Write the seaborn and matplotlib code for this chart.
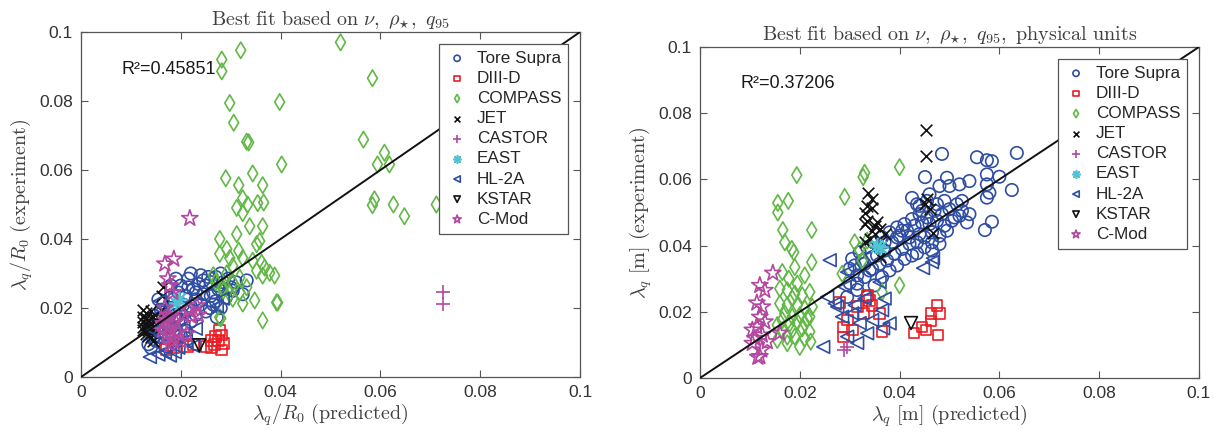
import matplotlib
matplotlib.use('Agg')
import matplotlib.pyplot as plt
import seaborn as sns
from matplotlib.ticker import FuncFormatter, MultipleLocator

sns.set_style('ticks')
plt.rcParams['font.family'] = ['Liberation Sans', 'DejaVu Sans']
plt.rcParams['mathtext.fontset'] = 'cm'

# ---- dataset names / legend order
DEVICES = ['Tore Supra', 'DIII-D', 'COMPASS', 'JET', 'CASTOR', 'EAST', 'HL-2A', 'KSTAR', 'C-Mod']

# ---- left panel: lambda_q/R0 (predicted, experiment)
ts_l_x = [0.0135, 0.014, 0.0145, 0.015, 0.0155, 0.016, 0.0145, 0.0155, 0.016, 0.0165, 0.017, 0.0175, 0.018, 0.0185,
          0.019, 0.0195, 0.02, 0.0205, 0.021, 0.0215, 0.022, 0.0225, 0.023, 0.0235, 0.024, 0.0245, 0.025, 0.0255,
          0.026, 0.0265, 0.027, 0.0275, 0.028, 0.0285, 0.029, 0.0295, 0.03, 0.031, 0.0332, 0.027, 0.028, 0.0265,
          0.025, 0.024, 0.023, 0.022, 0.021, 0.02, 0.019, 0.0185, 0.0175, 0.017, 0.0165, 0.02, 0.021, 0.022, 0.023,
          0.0175, 0.0165, 0.0155, 0.018, 0.019, 0.0215, 0.0245, 0.026, 0.029, 0.0275, 0.0272, 0.0258, 0.0304, 0.0324]
ts_l_y = [0.0095, 0.0085, 0.011, 0.0105, 0.013, 0.0115, 0.015, 0.017, 0.0195, 0.0215, 0.0165, 0.0145, 0.02, 0.0225,
          0.018, 0.0245, 0.0265, 0.021, 0.0235, 0.0285, 0.03, 0.0255, 0.0225, 0.027, 0.0295, 0.024, 0.0265, 0.029,
          0.0275, 0.0245, 0.029, 0.0265, 0.03, 0.0275, 0.0255, 0.0285, 0.026, 0.0275, 0.028, 0.022, 0.02, 0.021,
          0.019, 0.021, 0.018, 0.016, 0.019, 0.0165, 0.014, 0.0125, 0.011, 0.009, 0.0095, 0.012, 0.0135, 0.0205,
          0.0245, 0.0185, 0.0175, 0.0225, 0.0265, 0.0285, 0.026, 0.028, 0.0235, 0.023, 0.0255, 0.0173, 0.02, 0.025,
          0.024]

d3d_l_x = [0.0278, 0.0282, 0.027, 0.0262, 0.0275, 0.0268, 0.0285, 0.0252, 0.0262, 0.0282, 0.0214, 0.0172, 0.0185, 0.0226]
d3d_l_y = [0.0135, 0.0122, 0.0118, 0.0105, 0.0105, 0.0095, 0.0098, 0.0088, 0.0085, 0.0078, 0.0088, 0.008, 0.0085, 0.0095]

cmp_l_x = [0.052, 0.0282, 0.032, 0.0282, 0.0584, 0.0298, 0.0398, 0.0306, 0.0332, 0.0336, 0.0566, 0.0608, 0.0594,
           0.0618, 0.0402, 0.029, 0.0344, 0.0316, 0.0364, 0.0324, 0.0312, 0.0334, 0.0354, 0.0366, 0.0324, 0.0584,
           0.0588, 0.0626, 0.0648, 0.0712, 0.0338, 0.0364, 0.0312, 0.0278, 0.0358, 0.0352, 0.0278, 0.0316, 0.0292,
           0.0298, 0.0324, 0.0304, 0.0344, 0.0362, 0.0368, 0.0352, 0.0378, 0.0388, 0.0364, 0.0292, 0.0318, 0.0304,
           0.0284, 0.0298, 0.0318, 0.0332, 0.0324, 0.0348, 0.0394, 0.0304, 0.028, 0.0364, 0.0278, 0.0392, 0.027,
           0.0265, 0.0285]
cmp_l_y = [0.097, 0.092, 0.0947, 0.0886, 0.0866, 0.0794, 0.0797, 0.0737, 0.0682, 0.068, 0.0688, 0.065, 0.0616,
           0.0616, 0.0616, 0.0576, 0.059, 0.0556, 0.0556, 0.0518, 0.049, 0.05, 0.0504, 0.0506, 0.0475, 0.0498,
           0.0515, 0.05, 0.0466, 0.05, 0.0437, 0.0437, 0.0414, 0.04, 0.0394, 0.0385, 0.0357, 0.0366, 0.0371,
           0.0345, 0.0345, 0.0322, 0.0337, 0.0331, 0.0317, 0.0308, 0.0302, 0.0294, 0.0294, 0.03, 0.0288, 0.0273,
           0.026, 0.0242, 0.0245, 0.026, 0.0213, 0.0222, 0.0216, 0.0227, 0.017, 0.0164, 0.0173, 0.0216, 0.0275,
           0.0295, 0.025]

jet_l_x = [0.0125, 0.013, 0.0125, 0.013, 0.0135, 0.0125, 0.013, 0.0135, 0.0125, 0.013, 0.0135, 0.014, 0.013, 0.0135,
           0.014, 0.0125, 0.014, 0.0145, 0.014, 0.015, 0.0165, 0.0163, 0.016, 0.0145]
jet_l_y = [0.0195, 0.0185, 0.0175, 0.017, 0.0165, 0.016, 0.0155, 0.015, 0.0145, 0.014, 0.0135, 0.013, 0.0125, 0.012,
           0.0115, 0.0135, 0.0155, 0.0175, 0.019, 0.0165, 0.026, 0.0235, 0.0195, 0.0105]

cas_l_x = [0.0725, 0.0725]
cas_l_y = [0.0245, 0.0213]

east_l_x = [0.019, 0.0197]
east_l_y = [0.0215, 0.0225]

hl2a_l_x = [0.0138, 0.0155, 0.0168, 0.0178, 0.0188, 0.0195, 0.0158, 0.0162, 0.0284, 0.0272, 0.021, 0.0225, 0.0205,
            0.0185, 0.0145, 0.016, 0.023, 0.0195]
hl2a_l_y = [0.0058, 0.0065, 0.0072, 0.0062, 0.0072, 0.0085, 0.022, 0.0195, 0.0227, 0.0205, 0.0105, 0.009, 0.0145,
            0.0165, 0.0135, 0.012, 0.014, 0.0115]

kstar_l_x = [0.0237]
kstar_l_y = [0.0092]

cmod_l_x = [0.0218, 0.0168, 0.0186, 0.0174, 0.0178, 0.0184, 0.0168, 0.0175, 0.017, 0.018, 0.0175, 0.0172, 0.0182,
            0.0185, 0.0178, 0.0195, 0.019, 0.0205, 0.0215, 0.0232, 0.0235, 0.0222, 0.0165, 0.0163, 0.02, 0.0212]
cmod_l_y = [0.046, 0.0328, 0.0342, 0.0285, 0.0265, 0.0245, 0.02, 0.018, 0.0165, 0.0155, 0.014, 0.0125, 0.0115,
            0.0105, 0.0095, 0.013, 0.016, 0.018, 0.0195, 0.0207, 0.018, 0.0175, 0.0155, 0.0135, 0.0105, 0.0125]

# ---- right panel: lambda_q in metres
ts_r_x = [0.0485, 0.0555, 0.0575, 0.0585, 0.0635, 0.0451, 0.0495, 0.0575, 0.06, 0.0625, 0.0425, 0.044, 0.048, 0.05,
          0.052, 0.054, 0.0575, 0.058, 0.0575, 0.0525, 0.0525, 0.054, 0.0535, 0.0585, 0.0571, 0.046, 0.0475, 0.049,
          0.05, 0.0515, 0.051, 0.0485, 0.047, 0.0455, 0.044, 0.0425, 0.041, 0.0395, 0.038, 0.0365, 0.035, 0.0335,
          0.032, 0.0305, 0.03, 0.0315, 0.033, 0.034, 0.0355, 0.037, 0.0385, 0.04, 0.0415, 0.043, 0.0445, 0.046,
          0.0475, 0.049, 0.0505, 0.052, 0.0495, 0.048, 0.0465, 0.045, 0.0435, 0.042, 0.0405, 0.039, 0.0375, 0.036,
          0.0345, 0.033, 0.0315, 0.03, 0.0295, 0.0315, 0.0335, 0.035, 0.0365, 0.038, 0.0395, 0.041, 0.0425, 0.0435,
          0.045, 0.0465, 0.048, 0.0465, 0.044, 0.0395, 0.037, 0.0345, 0.0325, 0.031, 0.0405, 0.042, 0.0445, 0.0435,
          0.0455]
ts_r_y = [0.0677, 0.0667, 0.0658, 0.0655, 0.068, 0.0607, 0.0605, 0.0615, 0.0608, 0.0568, 0.0544, 0.052, 0.058, 0.058,
          0.0585, 0.0595, 0.0585, 0.056, 0.0545, 0.0535, 0.0505, 0.0495, 0.047, 0.0472, 0.0447, 0.0555, 0.0525, 0.0535,
          0.051, 0.0525, 0.0485, 0.0495, 0.0505, 0.0485, 0.0495, 0.048, 0.0465, 0.0455, 0.044, 0.0425, 0.041, 0.0395,
          0.038, 0.036, 0.033, 0.031, 0.0345, 0.0325, 0.037, 0.0385, 0.041, 0.043, 0.0445, 0.046, 0.047, 0.0465,
          0.0475, 0.046, 0.0475, 0.049, 0.0445, 0.043, 0.044, 0.0425, 0.041, 0.0405, 0.039, 0.0375, 0.0355, 0.0345,
          0.033, 0.0305, 0.0285, 0.0287, 0.0245, 0.0266, 0.0245, 0.028, 0.0305, 0.0325, 0.034, 0.036, 0.037, 0.0377,
          0.0395, 0.041, 0.0405, 0.0385, 0.0435, 0.0425, 0.041, 0.0365, 0.0355, 0.034, 0.0445, 0.0425, 0.0505, 0.0525,
          0.0535]

d3d_r_x = [0.0475, 0.048, 0.0463, 0.0463, 0.0445, 0.0453, 0.0429, 0.0477, 0.028, 0.0287, 0.0287, 0.0315, 0.034,
           0.0327, 0.0365, 0.036, 0.0335, 0.0295, 0.0305, 0.0345]
d3d_r_y = [0.022, 0.0196, 0.0195, 0.0172, 0.0154, 0.0145, 0.0136, 0.013, 0.0227, 0.0154, 0.0124, 0.0215, 0.0235,
           0.0196, 0.014, 0.0195, 0.025, 0.0175, 0.0145, 0.022]

cmp_r_x = [0.0194, 0.0156, 0.0177, 0.0156, 0.029, 0.0327, 0.033, 0.04, 0.0166, 0.0224, 0.017, 0.0184, 0.0188, 0.0224,
           0.019, 0.0165, 0.0178, 0.021, 0.0195, 0.016, 0.0175, 0.019, 0.0205, 0.022, 0.0185, 0.016, 0.0175, 0.0195,
           0.021, 0.0225, 0.017, 0.0185, 0.02, 0.0215, 0.0165, 0.018, 0.0195, 0.021, 0.022, 0.0155, 0.0165, 0.0185,
           0.0205, 0.022, 0.0175, 0.019, 0.021, 0.0155, 0.0222, 0.02, 0.0175, 0.032, 0.0325, 0.04, 0.0365, 0.0335,
           0.031, 0.0285]
cmp_r_y = [0.0613, 0.0529, 0.0535, 0.05, 0.0547, 0.0607, 0.062, 0.0637, 0.0447, 0.0447, 0.041, 0.039, 0.038, 0.035,
           0.0335, 0.032, 0.03, 0.031, 0.0285, 0.027, 0.0265, 0.0255, 0.025, 0.026, 0.024, 0.0225, 0.022, 0.022, 0.021,
           0.0215, 0.0195, 0.0185, 0.019, 0.018, 0.0175, 0.0165, 0.017, 0.0165, 0.0185, 0.016, 0.0145, 0.0145, 0.015,
           0.014, 0.0125, 0.0125, 0.012, 0.0115, 0.011, 0.0094, 0.0105, 0.0387, 0.0355, 0.028, 0.026, 0.0415, 0.041,
           0.0315]

jet_r_x = [0.0453, 0.0453, 0.0337, 0.0345, 0.0335, 0.033, 0.0345, 0.0455, 0.045, 0.046, 0.0335, 0.033, 0.0355, 0.035,
           0.036, 0.037, 0.034, 0.033, 0.036, 0.0467, 0.036, 0.0345]
jet_r_y = [0.075, 0.067, 0.056, 0.054, 0.052, 0.05, 0.0515, 0.054, 0.0525, 0.051, 0.0475, 0.0465, 0.047, 0.046,
           0.045, 0.0435, 0.042, 0.041, 0.041, 0.0438, 0.0366, 0.0445]

cas_r_x = [0.0289, 0.0295]
cas_r_y = [0.0085, 0.0095]

east_r_x = [0.0355, 0.036]
east_r_y = [0.04, 0.0395]

hl2a_r_x = [0.026, 0.0247, 0.0255, 0.027, 0.0275, 0.0295, 0.029, 0.0305, 0.032, 0.0315, 0.0365, 0.0367, 0.0345,
            0.0335, 0.0295, 0.0285, 0.0467, 0.0447, 0.0465, 0.037, 0.036, 0.031, 0.033, 0.038]
hl2a_r_y = [0.0356, 0.0094, 0.0245, 0.0225, 0.0215, 0.032, 0.0275, 0.0195, 0.0166, 0.0106, 0.0205, 0.015, 0.0175,
            0.0135, 0.0125, 0.0185, 0.0362, 0.0332, 0.035, 0.024, 0.029, 0.022, 0.024, 0.0165]

kstar_r_x = [0.0423]
kstar_r_y = [0.0166]

cmod_r_x = [0.0146, 0.012, 0.013, 0.0114, 0.0125, 0.012, 0.013, 0.0114, 0.0105, 0.0125, 0.011, 0.016, 0.0124, 0.012,
            0.0116, 0.0135, 0.0105]
cmod_r_y = [0.0317, 0.028, 0.0265, 0.0227, 0.0215, 0.0184, 0.017, 0.0155, 0.0145, 0.013, 0.012, 0.0136, 0.0085,
            0.0065, 0.0063, 0.011, 0.0105]

R2_LEFT = 0.45851
R2_RIGHT = 0.37206

# ---- styles per device
STYLE = {
    'Tore Supra': dict(marker='o', color='#2f4ea3', s=80),
    'DIII-D': dict(marker='s', color='#ec1c24', s=60),
    'COMPASS': dict(marker='d', color='#62b846', s=70),
    'JET': dict(marker='x', color='#111111', s=70),
    'CASTOR': dict(marker='+', color='#b2489f', s=110),
    'EAST': dict(marker=(8, 2, 0), color='#4fc3d4', s=120),
    'HL-2A': dict(marker='<', color='#2f4ea3', s=85),
    'KSTAR': dict(marker='v', color='#111111', s=85),
    'C-Mod': dict(marker='*', color='#b2489f', s=150),
}

left_data = {
    'Tore Supra': (ts_l_x, ts_l_y), 'DIII-D': (d3d_l_x, d3d_l_y), 'COMPASS': (cmp_l_x, cmp_l_y),
    'JET': (jet_l_x, jet_l_y), 'CASTOR': (cas_l_x, cas_l_y), 'EAST': (east_l_x, east_l_y),
    'HL-2A': (hl2a_l_x, hl2a_l_y), 'KSTAR': (kstar_l_x, kstar_l_y), 'C-Mod': (cmod_l_x, cmod_l_y),
}
right_data = {
    'Tore Supra': (ts_r_x, ts_r_y), 'DIII-D': (d3d_r_x, d3d_r_y), 'COMPASS': (cmp_r_x, cmp_r_y),
    'JET': (jet_r_x, jet_r_y), 'CASTOR': (cas_r_x, cas_r_y), 'EAST': (east_r_x, east_r_y),
    'HL-2A': (hl2a_r_x, hl2a_r_y), 'KSTAR': (kstar_r_x, kstar_r_y), 'C-Mod': (cmod_r_x, cmod_r_y),
}

LIMS = [0, 0.1]
GREY = '#404040'


def draw_panel(ax, data, r2, title, xlabel, ylabel):
    for name in DEVICES:
        st = STYLE[name]
        x, y = data[name]
        if name in ('JET', 'CASTOR', 'EAST'):
            sns.scatterplot(x=x, y=y, ax=ax, marker=st['marker'], s=st['s'], color=st['color'],
                            linewidth=1.2, label=name, zorder=3)
        else:
            sns.scatterplot(x=x, y=y, ax=ax, marker=st['marker'], s=st['s'], color=st['color'],
                            facecolor='none', edgecolor=st['color'], linewidth=1.2, label=name, zorder=3)
    # y = x reference
    sns.lineplot(x=LIMS, y=LIMS, ax=ax, color='#111111', linewidth=1.4, zorder=4)

    ax.set_xlim(LIMS)
    ax.set_ylim(LIMS)
    ax.xaxis.set_major_locator(MultipleLocator(0.02))
    ax.yaxis.set_major_locator(MultipleLocator(0.02))
    fmt = FuncFormatter(lambda v, p: f'{v:g}')
    ax.xaxis.set_major_formatter(fmt)
    ax.yaxis.set_major_formatter(fmt)
    ax.tick_params(direction='in', top=True, right=True, length=5, width=0.8, pad=6,
                   labelsize=12.5, colors='#333333', color='#555555')
    for sp in ax.spines.values():
        sp.set_visible(True)
        sp.set_color('#555555')
        sp.set_linewidth(0.9)

    ax.set_title(title, fontsize=14.5, color=GREY, pad=5)
    ax.set_xlabel(xlabel, fontsize=14.5, color=GREY, labelpad=1)
    ax.set_ylabel(ylabel, fontsize=14.5, color=GREY, labelpad=3)
    ax.text(0.0082, 0.089, f'R\u00b2={r2:.5f}', fontsize=13, color='#1a1a1a', va='center', ha='left')

    leg = ax.legend(loc='upper right', fontsize=12.3, markerscale=0.5, frameon=True, fancybox=False,
                    framealpha=1, edgecolor='#555555', borderpad=0.4, labelspacing=0.3,
                    handlelength=1.3, handletextpad=0.5, borderaxespad=0.7)
    leg.get_frame().set_linewidth(0.9)
    leg.set_zorder(10)


fig = plt.figure(figsize=(12.15, 4.34), dpi=100)
ax1 = fig.add_axes([0.0667, 0.1313, 0.4107, 0.795])
ax2 = fig.add_axes([0.5761, 0.129, 0.4107, 0.7627])

draw_panel(ax1, left_data, R2_LEFT,
           r'$\mathrm{Best\ fit\ based\ on\ }\nu,\ \rho_{\star},\ q_{95}$',
           r'$\lambda_q/R_0\ \mathrm{(predicted)}$',
           r'$\lambda_q/R_0\ \mathrm{(experiment)}$')
draw_panel(ax2, right_data, R2_RIGHT,
           r'$\mathrm{Best\ fit\ based\ on\ }\nu,\ \rho_{\star},\ q_{95},\ \mathrm{physical\ units}$',
           r'$\lambda_q\ \mathrm{[m]\ (predicted)}$',
           r'$\lambda_q\ \mathrm{[m]\ (experiment)}$')

fig.savefig('out.png', dpi=100)
